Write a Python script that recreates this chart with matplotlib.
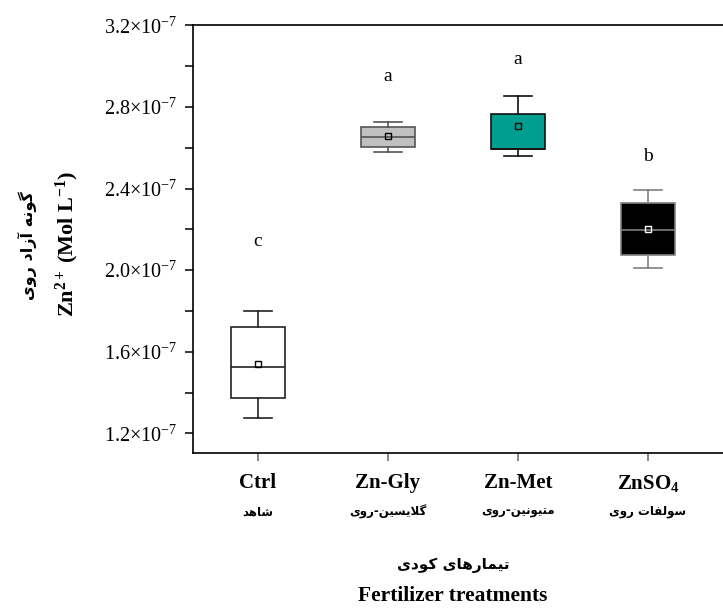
import matplotlib
matplotlib.use("Agg")
import matplotlib.pyplot as plt
from matplotlib.ticker import MultipleLocator, FuncFormatter

plt.rcParams['font.family'] = ['Liberation Serif', 'DejaVu Sans']
plt.rcParams['mathtext.fontset'] = 'custom'
plt.rcParams['mathtext.rm'] = 'Liberation Serif'
plt.rcParams['mathtext.it'] = 'Liberation Serif:italic'
plt.rcParams['mathtext.bf'] = 'Liberation Serif:bold'

# data (units of 1e-7 mol/L)
treatments = ['Ctrl', 'Zn-Gly', 'Zn-Met', r'$\mathbf{ZnSO_4}$']
treatments_fa = ['شاهد', 'گلایسین-روی', 'متیونین-روی', 'سولفات روی']
whisker_low = [1.275, 2.579, 2.561, 2.010]
q1 = [1.372, 2.603, 2.595, 2.076]
median = [1.524, 2.651, 2.595, 2.195]
q3 = [1.721, 2.702, 2.764, 2.329]
whisker_high = [1.801, 2.726, 2.854, 2.391]
means = [1.538, 2.656, 2.708, 2.201]
letters = ['c', 'a', 'a', 'b']
letter_y = [2.14, 2.95, 3.033, 2.558]

ylabel_fa = 'گونه آزاد روی'
xlabel_fa = 'تیمارهای کودی'

face_colors = ['white', '#c0c0c0', '#009e8f', 'black']
edge_colors = ['#222222', '#555555', '#111111', '#808080']
mean_edges = ['black', 'black', 'black', 'white']

# simple Persian shaping (matplotlib has no RTL support)
FORMS = {
    'ا': ('\uFE8D', '\uFE8E', None, None),
    'آ': ('\uFE81', '\uFE82', None, None),
    'د': ('\uFEA9', '\uFEAA', None, None),
    'ر': ('\uFEAD', '\uFEAE', None, None),
    'ز': ('\uFEAF', '\uFEB0', None, None),
    'و': ('\uFEED', '\uFEEE', None, None),
    'ی': ('\uFBFC', '\uFBFD', '\uFBFE', '\uFBFF'),
    'ه': ('\uFEE9', '\uFEEA', '\uFEEB', '\uFEEC'),
    'ن': ('\uFEE5', '\uFEE6', '\uFEE7', '\uFEE8'),
    'گ': ('\uFB92', '\uFB93', '\uFB94', '\uFB95'),
    'ک': ('\uFB8E', '\uFB8F', '\uFB90', '\uFB91'),
    'ش': ('\uFEB5', '\uFEB6', '\uFEB7', '\uFEB8'),
    'س': ('\uFEB1', '\uFEB2', '\uFEB3', '\uFEB4'),
    'ل': ('\uFEDD', '\uFEDE', '\uFEDF', '\uFEE0'),
    'ت': ('\uFE95', '\uFE96', '\uFE97', '\uFE98'),
    'م': ('\uFEE1', '\uFEE2', '\uFEE3', '\uFEE4'),
    'ف': ('\uFED1', '\uFED2', '\uFED3', '\uFED4'),
}


def dual(c):
    return c in FORMS and FORMS[c][2] is not None


def fa(text):
    out = []
    i = 0
    n = len(text)
    while i < n:
        c = text[i]
        prev_joins = i > 0 and dual(text[i - 1])
        if c == 'ل' and i + 1 < n and text[i + 1] == 'ا':
            out.append('\uFEFC' if prev_joins else '\uFEFB')
            i += 2
            continue
        if c not in FORMS:
            out.append(c)
            i += 1
            continue
        next_joins = dual(c) and i + 1 < n and text[i + 1] in FORMS
        iso, fin, ini, med = FORMS[c]
        if prev_joins and next_joins:
            out.append(med)
        elif prev_joins:
            out.append(fin)
        elif next_joins:
            out.append(ini)
        else:
            out.append(iso)
        i += 1
    return ''.join(reversed(out))


fig = plt.figure(figsize=(7.23, 6.1), dpi=100)
ax = fig.add_axes([193 / 723, 1 - 453.3 / 610, 530 / 723, 428 / 610])

positions = [1, 2, 3, 4]
for i, p in enumerate(positions):
    stats = [dict(whislo=whisker_low[i], q1=q1[i], med=median[i], q3=q3[i],
                  whishi=whisker_high[i], mean=means[i], fliers=[])]
    ec = edge_colors[i]
    ax.bxp(stats, positions=[p], widths=0.42, patch_artist=True,
           showmeans=True, showfliers=False,
           boxprops=dict(facecolor=face_colors[i], edgecolor=ec, linewidth=1.2),
           whiskerprops=dict(color=ec, linewidth=1.2),
           capprops=dict(color=ec, linewidth=1.2),
           medianprops=dict(color=ec, linewidth=1.2),
           meanprops=dict(marker='s', markersize=4.5, markerfacecolor='none',
                          markeredgecolor=mean_edges[i], markeredgewidth=1.0),
           capwidths=0.21)
    ax.text(p, letter_y[i], letters[i], ha='center', va='center', fontsize=14)

ax.set_xlim(0.5, 0.5 + 530 / 130)
ax.set_ylim(1.102, 3.2)

ax.spines['right'].set_visible(False)
ax.spines['top'].set_linewidth(1.2)
ax.spines['left'].set_linewidth(1.2)
ax.spines['bottom'].set_linewidth(1.2)

ax.yaxis.set_major_locator(MultipleLocator(0.4))
ax.yaxis.set_minor_locator(MultipleLocator(0.2))
ax.yaxis.set_major_formatter(FuncFormatter(lambda v, pos: r'$%.1f{\times}10^{-7}$' % v))
ax.tick_params(axis='y', which='both', direction='out', length=6, width=1.1, labelsize=14.5, pad=5)

ax.set_xticks(positions)
ax.set_xticklabels(treatments, fontsize=15, fontweight='bold')
ax.tick_params(axis='x', direction='out', length=6, width=1.1, color='#666666', pad=8)

xt = ax.get_xaxis_transform()
for i, p in enumerate(positions):
    ax.text(p, -0.137, fa(treatments_fa[i]), transform=xt, ha='center', va='center',
            fontsize=8.5, fontweight='bold', family=['DejaVu Sans'])

ax.text(2.5, -0.262, fa(xlabel_fa), transform=xt, ha='center', va='center',
        fontsize=11, fontweight='bold', family=['DejaVu Sans'])
ax.text(2.5, -0.333, 'Fertilizer treatments', transform=xt, ha='center', va='center',
        fontsize=15.5, fontweight='bold')

fig.text(27 / 723, 1 - 246 / 610, fa(ylabel_fa), rotation=90, ha='center', va='center',
         fontsize=11.5, fontweight='bold', family=['DejaVu Sans'])
fig.text(67 / 723, 1 - 244 / 610, r'$\mathbf{Zn^{2+}\ (Mol\ L^{-1})}$', rotation=90,
         ha='center', va='center', fontsize=16)

fig.savefig('out.png', dpi=100)
